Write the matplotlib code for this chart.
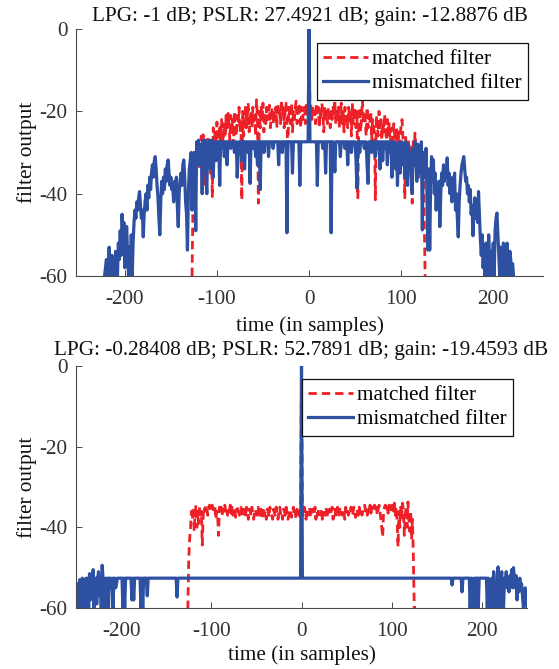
import numpy as np
import matplotlib
matplotlib.use("Agg")
import matplotlib.pyplot as plt

plt.rcParams['font.family'] = ['Liberation Serif', 'DejaVu Serif']
plt.rcParams['axes.unicode_minus'] = False

# ---------------- texts / ticks ----------------
title_top = "LPG: -1 dB; PSLR: 27.4921 dB; gain: -12.8876 dB"
title_bot = "LPG: -0.28408 dB; PSLR: 52.7891 dB; gain: -19.4593 dB"
xlabel = "time (in samples)"
ylabel = "filter output"
legend_labels = ["matched filter", "mismatched filter"]
yticks = [-60, -40, -20, 0]
xticks = [-200, -100, 0, 100, 200]

# ---------------- top panel data ----------------
# matched filter, top (samples -127 .. 127)
mf1_start = -127
mf1_vals = [
    -60, -42, -33, -30, -36, -28, -31, -27, -34, -29,
    -26, -32, -25.7, -30, -38, -28, -33, -26, -30, -29,
    -35, -27, -41, -24, -28, -25, -27, -22.6, -26, -30,
    -24, -27, -22, -25, -29, -23, -26, -21, -24, -20.5,
    -23, -27, -21, -25, -22, -28, -20, -24, -26, -21,
    -23, -19, -25, -22, -41.5, -20, -26, -23, -19, -24,
    -21, -18, -25, -22, -20, -24, -19, -23, -21, -26,
    -17.2, -22, -42.3, -20, -24, -19, -22, -18, -25, -21,
    -23, -19, -22, -20, -18.5, -24, -21, -19, -23, -20,
    -22, -19, -24, -18, -21, -20, -23, -17.2, -21, -19,
    -24, -20, -18, -22, -30, -19, -21, -23, -18, -25,
    -20, -22, -19, -17.5, -23, -21, -18, -20, -24, -19,
    -22, -20, -19, -23, -18, -21, -20,
    0,
    -20, -18.5, -22, -19, -21.6, -20, -23, -18, -21, -19,
    -24, -20, -22, -18, -21, -25, -19, -22, -20, -23,
    -19, -21, -24, -20, -22, -19, -21, -17.2, -23, -20,
    -22, -19, -24, -21, -18, -23, -20, -25, -19, -22,
    -21, -24, -19, -22, -20, -26, -18, -23, -21, -19,
    -24, -20, -41, -22, -19, -25, -21, -17.2, -23, -20,
    -22, -26, -19, -24, -21, -23, -20, -27, -22, -24,
    -25, -41.5, -21, -23, -26, -20, -24, -22, -27, -23,
    -25, -20.7, -24, -27, -22, -26, -23, -28, -25, -24,
    -27, -23, -26, -29, -24, -28, -25, -30, -26, -23,
    -22, -27, -30, -41, -26, -29, -33, -27, -31, -28,
    -30, -42.3, -27, -32, -25.3, -29, -34, -28, -36, -30,
    -33, -28, -38, -31, -45, -60, -60,
]

# mismatched filter, top (samples -222 .. 222)
mm1_start = -222
mm1_vals = [
    # -222 .. -123
    -60, -58, -56, -60, -57, -53, -58, -60, -55, -60,
    -57, -60, -54, -58, -60, -52, -56, -49, -55, -45,
    -50, -47, -58, -51, -48, -55, -60, -53, -60, -50,
    -60, -52, -47, -44, -46, -42, -44, -41, -39.5, -43,
    -46, -44, -50.5, -45, -42, -40, -44, -38, -41, -36,
    -39, -35, -33, -36, -32, -31, -34, -38, -41, -46,
    -50, -42, -37, -40, -36, -39, -34, -37, -33, -31.8,
    -35, -38, -36, -39, -38, -42, -37, -40, -36, -43,
    -48, -40, -37, -35, -38, -33, -31.8, -36, -42, -45,
    -53.7, -40, -34, -32, -30, -44, -36, -30, -33, -49,
    # -122 .. -1
    -27.4, -30, -27, -33, -28, -29, -40, -27, -31, -27,
    -35, -40, -28, -31, -27, -34, -29, -27, -36, -28,
    -27.4, -32, -27.4, -30, -27.4, -38, -27.4, -29, -27.4, -27.4,
    -31, -27.4, -27.4, -33, -27.4, -27.4, -27.4, -29, -27.4, -27.4,
    -27.4, -30, -27.4, -27.4, -36, -31, -27.4, -27.4, -27.4, -32,
    -27.4, -27.4, -34, -27.4, -27.4, -27.4, -30, -27.4, -37.5, -27.4,
    -27.4, -29, -27.4, -27.4, -31, -27.4, -33, -27.4, -27.4, -39,
    -27.4, -27.4, -27.4, -30, -27.4, -27.4, -27.4, -27.4, -31, -27.4,
    -27.4, -27.4, -27.4, -29, -27.4, -27.4, -27.4, -27.4, -27.4, -33,
    -27.4, -27.4, -27.4, -30, -27.4, -27.4, -27.4, -27.4, -49.5, -27.4,
    -27.4, -27.4, -27.4, -27.4, -35, -27.4, -27.4, -27.4, -27.4, -27.4,
    -27.4, -27.4, -38, -27.4, -27.4, -27.4, -27.4, -27.4, -27.4, -27.4, -27.4, -27.4,
    # 0
    0,
    # 1 .. 122
    -27.4, -27.4, -27.4, -27.4, -27.4, -27.4, -27.4, -27.4, -38, -27.4,
    -27.4, -27.4, -27.4, -27.4, -29, -27.4, -27.4, -35, -27.4, -27.4,
    -27.4, -27.4, -27.4, -49.5, -27.4, -27.4, -30, -34.7, -27.4, -27.4,
    -27.4, -27.4, -27.4, -31, -27.4, -27.4, -27.4, -27.4, -29, -27.4,
    -27.4, -33, -27.4, -27.4, -27.4, -30, -27.4, -27.4, -27.4, -27.4,
    -32, -38.7, -27.4, -27.4, -30, -27.4, -27.4, -27.4, -27.4, -29,
    -27.4, -27.4, -33, -37.5, -27.4, -27.4, -27.4, -30, -27.4, -27.4,
    -27.4, -31, -27.4, -27.4, -29, -27.4, -34, -27.4, -27.4, -32,
    -27.4, -27.4, -29, -27.4, -33, -27.4, -30, -27.4, -27.4, -36,
    -27.4, -30, -27.4, -34, -28, -38, -29, -27.4, -35, -30,
    -27.4, -33, -29, -36, -27.4, -31, -38, -28, -34, -30,
    -36, -40, -29, -33, -27.4, -31, -37, -28, -35, -32, -30, -27.4,
    # 123 .. 222
    -48.8, -30, -32, -36, -29, -40, -53.7, -34, -53.7, -38,
    -31, -36, -31.8, -40, -35, -44, -38, -42, -37, -48,
    -40, -35, -38, -33, -37, -34, -36, -31.3, -38, -35,
    -40, -37, -42, -36, -39, -35, -44, -40, -46, -50.5,
    -42, -38, -35, -33, -32, -31, -34, -37, -36, -40,
    -38, -42, -39, -45, -43, -50.2, -44, -41, -46, -43,
    -47, -39.5, -45, -51, -55, -50, -58, -53, -60, -52,
    -57, -60, -50, -56, -60, -54, -58, -52, -60, -49,
    -46, -44.7, -50, -55, -60, -53, -58, -60, -52, -57,
    -55, -60, -52, -58, -60, -54, -56, -60, -57, -60,
]

# ---------------- bottom panel data ----------------
# matched filter, bottom (samples -127 .. 127)
mf2_start = -127
mf2_vals = [
    -60, -60, -47.6, -43, -40, -36, -38, -35, -41, -37,
    -34.5, -40, -36, -39, -35, -37, -36, -44.4, -37, -35,
    -36, -34.5, -35, -37, -35, -34.5, -36, -35, -34.5, -35.5,
    -36, -35, -38, -36, -37, -42, -35, -36.5, -35, -37,
    -35.5, -36, -34.5, -36, -35, -37, -35.5, -36, -34.5, -36.5,
    -35, -37, -36, -35, -37.5, -35.5, -36, -34.8, -37, -36,
    -35, -36.5, -37, -35.5, -36, -37.5, -35, -36, -38, -35.5,
    -36, -37, -35, -36.5, -38, -36, -35.5, -37, -36, -35,
    -37, -36, -35.5, -38, -36.5, -35, -37, -36, -38, -35.5,
    -36, -37.5, -35, -36, -37, -38, -35.5, -36.5, -37, -35,
    -36.5, -38, -36, -35, -37, -36.5, -38, -35.5, -36, -37,
    -35, -36.5, -38, -37, -35.5, -36, -37.5, -36, -35, -37,
    -36, -38, -35.5, -37, -36, -38, -36.5,
    0,
    -36.5, -37, -35, -36, -38, -35.5, -37, -36, -35, -37.5,
    -36, -35.5, -37, -36.5, -35, -38, -36, -37, -35.5, -36,
    -37, -36, -38, -35.5, -36.5, -37, -35, -36, -37.5, -36,
    -35.5, -37, -36, -35, -38, -36.5, -35.5, -37, -36, -35,
    -37.5, -36, -35, -36.5, -37, -35.5, -36, -38, -35, -36.5,
    -36, -37, -35.5, -36, -35, -37, -36.5, -35, -36, -37.5,
    -35.5, -36, -37, -35, -36.5, -35.5, -37, -36, -35, -34.5,
    -36, -35.5, -37, -35, -36, -34.5, -36.5, -35, -36, -35.5,
    -34.5, -36, -35, -37, -35.5, -34.5, -36, -38, -40, -42.4,
    -36, -35, -34.5, -36, -35, -36.5, -34.5, -35, -36, -34.5,
    -35, -36, -34, -37, -35, -38, -44.8, -36, -40, -35,
    -38, -34, -36, -42, -37, -35, -40, -33.7, -38, -41,
    -36, -43, -38, -47, -60, -60, -60,
]

# mismatched filter, bottom: dense noisy edges + sparse vertices on the flat floor
mm2_left_start = -250
mm2_left_vals = [
    -60, -57, -54, -60, -53, -56, -60, -52.6, -58, -53,
    -60, -52.6, -55, -52.6, -60, -51.5, -58, -52.6, -56, -50.5,
    -60, -53, -52.6, -59, -52.6, -51, -57, -52.6, -60, -49.4,
    -52.6, -56, -60, -52.6, -58, -52.6, -60, -52.6, -52.6, -55,
    -52.6, -60, -52.6, -52.6, -55,
]
mm2_mid_x = [-204, -199, -198, -197, -196, -195, -189, -188, -187, -186, -185,
             -179, -178, -177, -176, -175, -172, -171, -170, -139, -138, -137,
             -1, 0, 1, 166, 167, 168, 177, 178, 179, 186, 187, 188, 189, 190,
             191, 192, 193, 195, 196, 197, 205]
mm2_mid_y = [-52.6, -52.6, -60, -52.6, -60, -52.6, -52.6, -58, -52.6, -58, -52.6,
             -52.6, -60, -52.6, -60, -52.6, -52.6, -57, -52.6, -52.6, -57.3, -52.6,
             -52.6, 0, -52.6, -52.6, -54.3, -52.6, -52.6, -56, -52.6, -52.6, -60, -52.6, -60, -60,
             -52.6, -60, -52.6, -52.6, -60, -52.6, -52.6]
mm2_right_start = 206
mm2_right_vals = [
    -60, -52.6, -60, -53, -60, -52.6, -58, -51, -60, -55,
    -60, -52, -49.8, -56, -60, -53, -51, -58, -60, -52.6,
    -54, -51, -55, -53, -56, -52, -54, -50.5, -55, -50,
    -53, -55, -52, -58, -53, -56, -52.6, -55, -54, -57,
    -60, -58, -55, -57, -60,
]

# ---------------- styling ----------------
RED = '#EE2027'
BLUE = '#2E50A2'
AX_COL = '#4a4a4a'
TXT_COL = '#333333'
FS = 15.3

fig = plt.figure(figsize=(5.59, 6.69), dpi=100)

def style_axes(ax, xlim, xlabelpad):
    ax.set_xlim(*xlim)
    ax.set_ylim(-60, 0)
    ax.set_xticks(xticks)
    ax.set_yticks(yticks)
    for s in ['top', 'right']:
        ax.spines[s].set_visible(False)
    for s in ['left', 'bottom']:
        ax.spines[s].set_color(AX_COL)
        ax.spines[s].set_linewidth(0.8)
    ax.tick_params(axis='both', direction='in', length=4, width=0.7, color=AX_COL,
                   labelsize=FS, labelcolor=TXT_COL)
    ax.tick_params(axis='x', pad=10)
    ax.tick_params(axis='y', pad=6)
    ax.set_xlabel(xlabel, fontsize=FS, color='#111111', labelpad=xlabelpad)
    ax.set_ylabel(ylabel, fontsize=FS, color='#111111', labelpad=2)

def add_legend(ax, anchor):
    leg = ax.legend(legend_labels, loc='upper right', bbox_to_anchor=anchor,
                    borderaxespad=0, fontsize=FS, frameon=True, fancybox=False,
                    edgecolor='#111111', framealpha=1, handlelength=2.1,
                    handletextpad=0.2, labelspacing=0.2, borderpad=0.3)
    leg.get_frame().set_linewidth(0.9)
    return leg

# top axes
ax1 = fig.add_axes([76 / 559, 393 / 669, 467 / 559, 247 / 669])
x_mf1 = np.arange(mf1_start, mf1_start + len(mf1_vals))
x_mm1 = np.arange(mm1_start, mm1_start + len(mm1_vals))
ax1.plot(x_mf1, mf1_vals, color=RED, lw=2.0, dashes=(3.0, 1.8))
ax1.plot(x_mm1, mm1_vals, color=BLUE, lw=2.3)
style_axes(ax1, (-253, 254), 5)
ax1.set_title(title_top, fontsize=FS, color='#111111', pad=6)
add_legend(ax1, (0.968, 0.943))

# bottom axes
ax2 = fig.add_axes([76 / 559, 61 / 669, 451 / 559, 242 / 669])
x_mf2 = np.arange(mf2_start, mf2_start + len(mf2_vals))
x_mm2 = np.concatenate([np.arange(mm2_left_start, mm2_left_start + len(mm2_left_vals)),
                        np.array(mm2_mid_x),
                        np.arange(mm2_right_start, mm2_right_start + len(mm2_right_vals))])
y_mm2 = np.concatenate([mm2_left_vals, mm2_mid_y, mm2_right_vals])
ax2.plot(x_mf2, mf2_vals, color=RED, lw=2.0, dashes=(3.0, 1.8))
ax2.plot(x_mm2, y_mm2, color=BLUE, lw=2.3)
style_axes(ax2, (-250, 250), 3)
ax2.set_title(title_bot, fontsize=FS, color='#111111', pad=8)
add_legend(ax2, (0.969, 0.946))

fig.savefig('out.png', dpi=100)
